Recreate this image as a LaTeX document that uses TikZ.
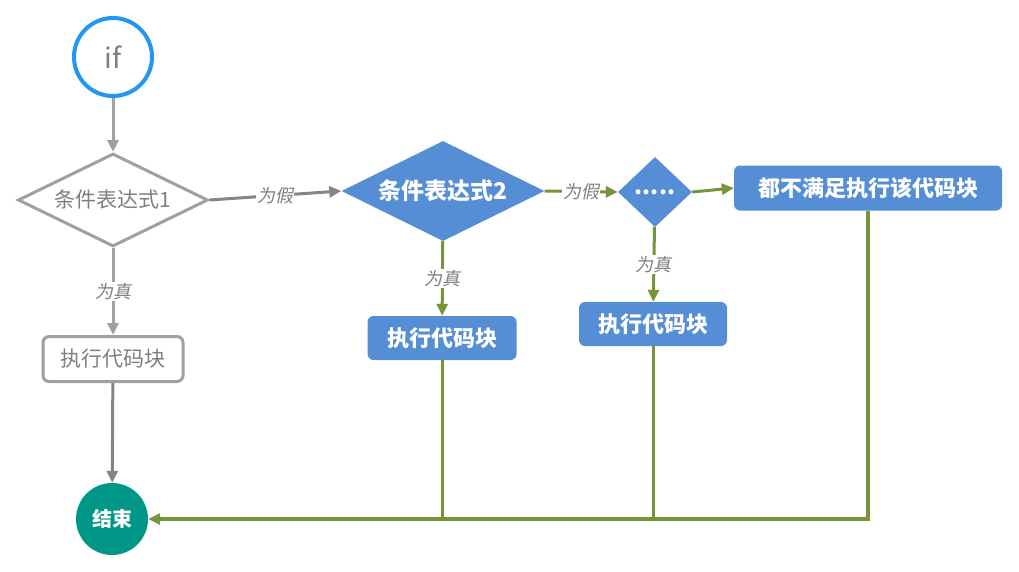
\documentclass[tikz,border=0pt]{standalone}
\usepackage{fontspec}
\setmainfont{Noto Sans CJK SC}
\newfontfamily\labelfont[FakeSlant=0.2]{Noto Sans CJK SC}
\usetikzlibrary{shapes.geometric,arrows.meta}

\definecolor{ifblue}{HTML}{2196F3}
\definecolor{lineGray}{HTML}{A0A0A0}
\definecolor{darkGray}{HTML}{858585}
\definecolor{textGray}{HTML}{7F7F7F}
\definecolor{boxBlue}{HTML}{558ED5}
\definecolor{flowGreen}{HTML}{77933C}
\definecolor{endTeal}{HTML}{009688}

\tikzset{
    tip/.style={-{Triangle[length=12pt,width=11pt]}},
    greyflow/.style={draw=lineGray, line width=3pt, tip},
    darkflow/.style={draw=darkGray, line width=3pt, tip},
    greenflow/.style={draw=flowGreen, line width=3pt, tip},
    greenback/.style={draw=flowGreen, line width=3pt},
    branch/.style={fill=white, inner sep=1pt, text=textGray, font=\labelfont\fontsize{18}{20}\selectfont},
    greydiamond/.style={diamond, draw=lineGray, line width=3pt, fill=white, inner sep=0pt, aspect=2,
        text=textGray, font=\fontsize{21}{24}\selectfont},
    bluediamond/.style={diamond, fill=boxBlue, inner sep=0pt, aspect=2,
        text=white, font=\bfseries\fontsize{23}{26}\selectfont},
    greybox/.style={rectangle, rounded corners=6pt, draw=lineGray, line width=3pt, fill=white,
        text=textGray, font=\fontsize{21}{24}\selectfont},
    bluebox/.style={rectangle, rounded corners=6pt, fill=boxBlue, text=white,
        font=\bfseries\fontsize{22}{26}\selectfont}
}

\begin{document}
\begin{tikzpicture}[x=1pt, y=-1pt]
    \useasboundingbox (0,0) rectangle (1019,571);

    % start and end
    \node[circle, draw=ifblue, line width=4pt, minimum size=78pt, text=textGray,
          font=\fontsize{28}{30}\selectfont] (start) at (113,57) {if};
    \node[circle, fill=endTeal, minimum size=72pt, text=white,
          font=\bfseries\fontsize{20}{24}\selectfont] (finish) at (112,519) {结束};

    % conditions
    \node[greydiamond, minimum width=190pt, minimum height=93pt] (cond1) at (113,200) {条件表达式1};
    \node[bluediamond, minimum width=203pt, minimum height=100pt] (cond2) at (443,191) {条件表达式2};
    \node[bluediamond, minimum width=74pt, minimum height=70pt, aspect=1] (cond3) at (655,192) {.....};

    % code blocks
    \node[greybox, minimum width=140pt, minimum height=45pt] (block1) at (113,359) {执行代码块};
    \node[bluebox, minimum width=149pt, minimum height=44pt] (block2) at (442,338) {执行代码块};
    \node[bluebox, minimum width=148pt, minimum height=44pt] (block3) at (653,324) {执行代码块};
    \node[bluebox, minimum width=268pt, minimum height=45pt] (block4) at (868,188) {都不满足执行该代码块};

    % grey branch
    \draw[greyflow] (start) -- (cond1);
    \draw[greyflow] (cond1) -- node[branch] {为真} (block1);
    \draw[darkflow] (cond1.east) -- node[branch] {为假} (cond2.west);
    \draw[darkflow] (block1) -- (finish);

    % blue branch
    \draw[greenflow] (cond2) -- node[branch] {为真} (block2);
    \draw[greenflow] (cond2.east) -- node[branch] {为假} (cond3.west);
    \draw[greenflow] (cond3) -- node[branch] {为真} (block3);
    \draw[greenflow] (cond3.east) -- (block4.west);

    % back to the end
    \draw[greenback] (block2.south) -- (block2.south |- finish.east);
    \draw[greenback] (block3.south) -- (block3.south |- finish.east);
    \draw[greenback, line width=3.5pt, tip] (block4.south) |- (finish.east);
\end{tikzpicture}
\end{document}
